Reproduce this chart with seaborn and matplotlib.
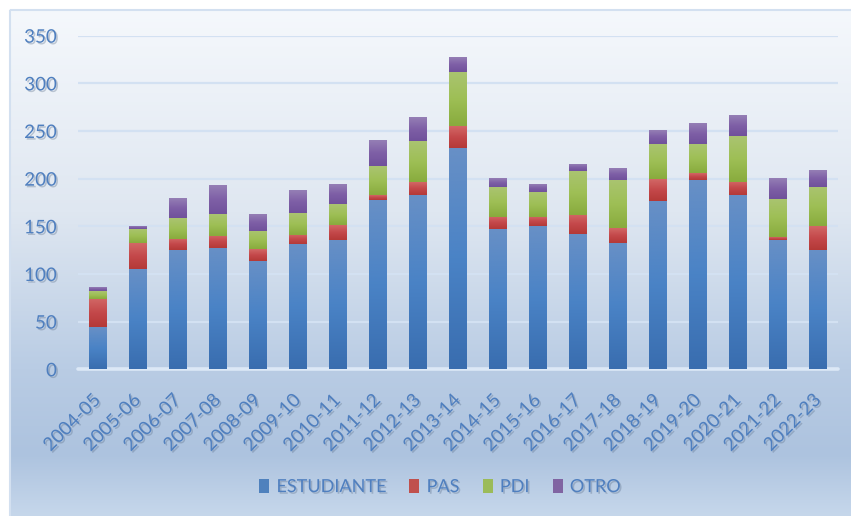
import numpy as np
import pandas as pd
import matplotlib
matplotlib.use("Agg")
import matplotlib.pyplot as plt
import matplotlib.patheffects as pe
from matplotlib.colors import LinearSegmentedColormap
from matplotlib.patches import Rectangle
import seaborn as sns

# ---- data -------------------------------------------------------------
cursos = ["2004-05", "2005-06", "2006-07", "2007-08", "2008-09", "2009-10",
          "2010-11", "2011-12", "2012-13", "2013-14", "2014-15", "2015-16",
          "2016-17", "2017-18", "2018-19", "2019-20", "2020-21", "2021-22",
          "2022-23"]
estudiante = [44, 105, 125, 127, 114, 131, 136, 178, 183, 232, 147, 150,
              142, 133, 177, 199, 183, 136, 125]
pas = [30, 27, 12, 13, 12, 10, 15, 5, 13, 23, 13, 10, 20, 15, 23, 7, 14, 3, 25]
pdi = [8, 15, 22, 23, 19, 23, 22, 30, 43, 57, 31, 26, 46, 51, 36, 30, 48, 40, 41]
otro = [4, 3, 20, 30, 17, 24, 20, 27, 25, 15, 9, 8, 7, 12, 14, 22, 21, 22, 17]
series = ["ESTUDIANTE", "PAS", "PDI", "OTRO"]
y_ticks = [0, 50, 100, 150, 200, 250, 300, 350]

# ---- styling ----------------------------------------------------------
sns.set_theme(style="white")
plt.rcParams["font.family"] = ["Lato", "DejaVu Sans"]

base_colors = ["#4f81bd", "#c0504d", "#9bbb59", "#8064a2"]
# (bottom, middle, top) shades for the gradient fill of each series
shades = {
    "ESTUDIANTE": ["#396daf", "#4a83c6", "#6890c6"],
    "PAS": ["#b43937", "#c4484a", "#d26866"],
    "PDI": ["#88ab3d", "#9ebf55", "#aac471"],
    "OTRO": ["#70519b", "#7e5fa6", "#957fb5"],
}
text_color = "#4f7fbf"
shadow = [pe.SimplePatchShadow(offset=(1.2, -1.2), shadow_rgbFace="#5b6f8a", alpha=0.35),
          pe.Normal()]
tick_size = 13.5

W, H = 851, 516
fig = plt.figure(figsize=(W / 100, H / 100), dpi=100, facecolor="white")

# ---- panel background (vertical gradient) -----------------------------
bg = fig.add_axes([0, 0, 1, 1], zorder=-10)
bg.set_xlim(0, W)
bg.set_ylim(H, 0)
bg.axis("off")
bg_cmap = LinearSegmentedColormap.from_list(
    "panel",
    [(0.0, "#f5f8fc"), (0.40, "#dfe7f1"), (0.71, "#b9cce4"),
     (0.88, "#adc3df"), (1.0, "#c6d7eb")])
grad = np.linspace(0, 1, 256).reshape(-1, 1)
bg.imshow(grad, cmap=bg_cmap, extent=[9, W, H, 9], aspect="auto",
          interpolation="bicubic")
bg.add_patch(Rectangle((9.5, 9.5), W, H, fill=False, ec="#d3e0f0", lw=1.5))

# ---- main axes --------------------------------------------------------
left, right = 77.7 / W, 838 / W
bottom_ax, top_ax = (H - 369.3) / H, (H - 35.7) / H
ax = fig.add_axes([left, bottom_ax, right - left, top_ax - bottom_ax])
ax.set_facecolor("none")

df = pd.DataFrame({"curso": cursos, "ESTUDIANTE": estudiante, "PAS": pas,
                   "PDI": pdi, "OTRO": otro})

stack = np.zeros(len(cursos))
for name, color in zip(series, base_colors):
    sns.barplot(data=df, x="curso", y=name, color=color, saturation=1,
                width=0.425, bottom=stack.copy(), errorbar=None, ax=ax,
                linewidth=0, zorder=3)
    stack += df[name].to_numpy()

# gradient fill on each bar segment
n = len(cursos)
for i, patch in enumerate(ax.patches):
    name = series[i // n]
    cmap = LinearSegmentedColormap.from_list(name, shades[name])
    x0, y0 = patch.get_x(), patch.get_y()
    w, h = patch.get_width(), patch.get_height()
    if h <= 0:
        continue
    ax.imshow(grad, cmap=cmap, origin="lower", extent=[x0, x0 + w, y0, y0 + h],
              aspect="auto", interpolation="bicubic", zorder=3.5)

ax.set_xlim(-0.5, n - 0.5)
ax.set_ylim(0, 350)
ax.set_aspect("auto")

for s in ax.spines.values():
    s.set_visible(False)
ax.set_yticks(y_ticks)
ax.yaxis.grid(True, color="#d3e1f2", lw=1.6, zorder=1)
ax.xaxis.grid(False)
ax.set_axisbelow(True)
ax.axhline(0, color="#dce8f6", lw=2.6, zorder=2, clip_on=False)
ax.set_xlabel("")
ax.set_ylabel("")

ax.tick_params(axis="both", length=0, colors=text_color)
ax.tick_params(axis="y", pad=15, labelsize=tick_size)
ax.tick_params(axis="x", pad=20, labelsize=tick_size)
for lab in ax.get_yticklabels():
    lab.set_path_effects(shadow)
    lab.set_color(text_color)
for lab in ax.get_xticklabels():
    lab.set_rotation(45)
    lab.set_ha("right")
    lab.set_va("center")
    lab.set_rotation_mode("anchor")
    lab.set_color(text_color)
    lab.set_path_effects(shadow)

# ---- legend -----------------------------------------------------------
handles = [Rectangle((0, 0), 1, 1, fc=c, ec="none") for c in base_colors]
leg = fig.legend(handles, series, loc="center", bbox_to_anchor=(440 / W, 1 - 487 / H),
                 ncol=4, frameon=False, fontsize=13, handlelength=0.55,
                 handleheight=0.8, handletextpad=0.4, columnspacing=1.3)
for t in leg.get_texts():
    t.set_color(text_color)
    t.set_path_effects(shadow)

fig.savefig("out.png", dpi=100, facecolor="white")
